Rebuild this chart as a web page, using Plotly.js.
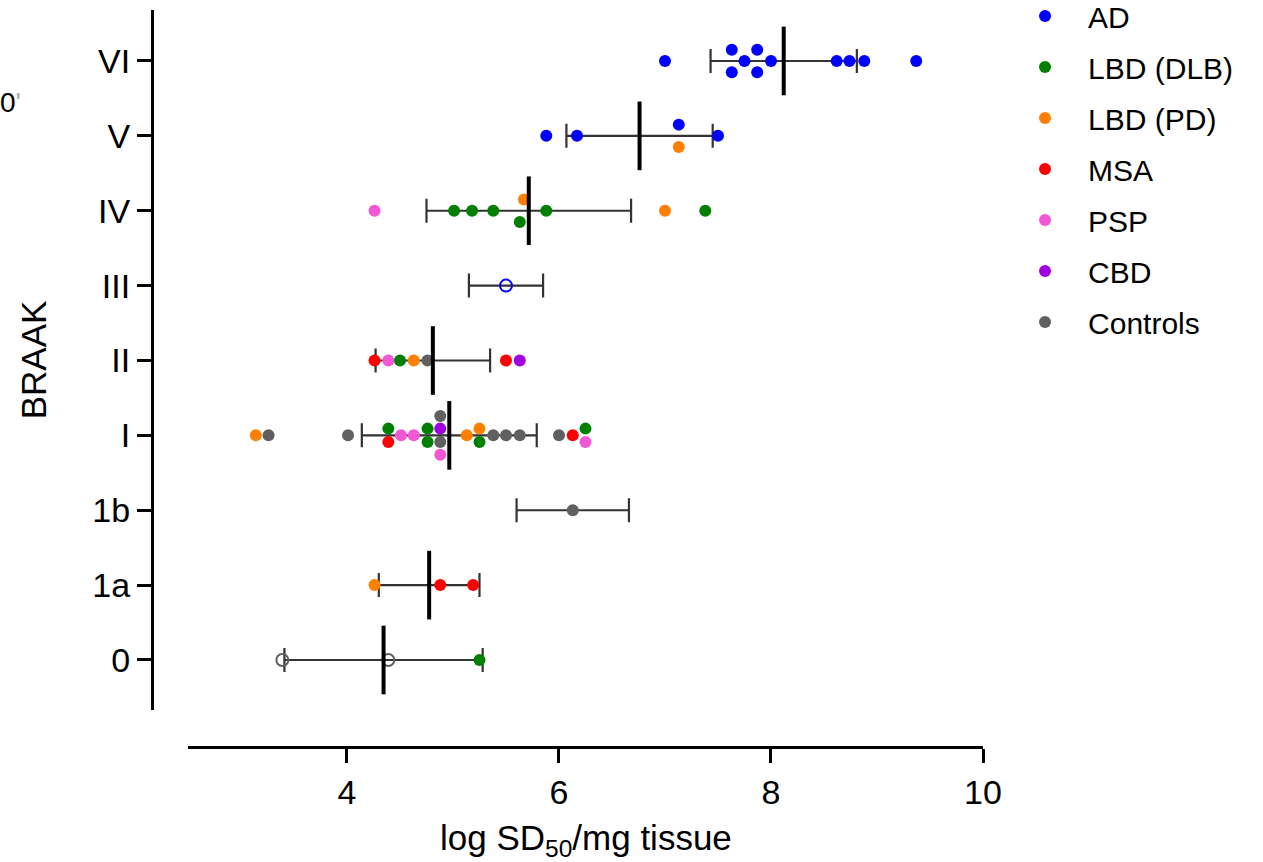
<!DOCTYPE html>
<html><head><meta charset="utf-8">
<script src="https://cdn.plot.ly/plotly-3.0.1.min.js"></script>
<style>html,body{margin:0;padding:0;background:#fff;} #chart{width:1263px;height:862px;}</style>
</head><body><div id="chart"></div>
<script>
// Braak stages (bottom to top)
const stages = ['0','1a','1b','I','II','III','IV','V','VI'];

const groupNames  = ['AD','LBD (DLB)','LBD (PD)','MSA','PSP','CBD','Controls'];
const groupColors = ['#0000ff','#007f00','#ff7f00','#ff0000','#f257d6','#a000e0','#606060'];

// AD
const adStage  = ['VI','VI','VI','VI','VI','VI','VI','VI','VI','VI','VI','V','V','V','V'];
const adValue  = [7.00,7.63,7.63,7.75,7.87,7.87,8.00,8.62,8.74,8.88,9.37,5.88,6.17,7.13,7.50];
const adJitter = [0,0.15,-0.15,0,0.15,-0.15,0,0,0,0,0,0,0,0.15,0];
// LBD (DLB)
const dlbStage  = ['IV','IV','IV','IV','IV','IV','II','I','I','I','I','I','0'];
const dlbValue  = [5.01,5.18,5.38,5.63,5.88,7.38,4.50,4.39,4.76,4.76,5.25,6.25,5.25];
const dlbJitter = [0,0,0,-0.15,0,0,0,0.09,0.09,-0.09,-0.09,0.09,0];
// LBD (PD)
const pdStage  = ['V','IV','IV','II','I','I','I','1a'];
const pdValue  = [7.13,5.67,7.00,4.63,3.14,5.13,5.25,4.26];
const pdJitter = [-0.15,0.15,0,0,0,0,0.09,0];
// MSA
const msaStage  = ['II','II','I','I','1a','1a'];
const msaValue  = [4.26,5.50,4.39,6.13,4.88,5.19];
const msaJitter = [0,0,-0.09,0,0,0];
// PSP
const pspStage  = ['IV','II','I','I','I','I'];
const pspValue  = [4.26,4.39,4.51,4.63,4.88,6.25];
const pspJitter = [0,0,0,0,-0.26,-0.09];
// CBD
const cbdStage  = ['II','I'];
const cbdValue  = [5.63,4.88];
const cbdJitter = [0,0.09];
// Controls
const ctrlStage  = ['II','I','I','I','I','I','I','I','I','1b'];
const ctrlValue  = [4.76,3.26,4.01,4.88,4.88,5.38,5.50,5.63,6.00,6.13];
const ctrlJitter = [0,0,0,0.26,-0.09,0,0,0,0,0];
// open-circle points
const openStage = ['III','0','0'];
const openValue = [5.50,3.39,4.39];
const openGroup = ['AD','Controls','Controls'];

// mean +/- SD per stage
const statStage = ['VI','V','IV','III','II','I','1b','1a','0'];
const statMean  = [8.12,6.76,5.715,5.50,4.81,4.965,6.13,4.775,4.345];
const statSD    = [0.69,0.69,0.965,0.35,0.54,0.825,0.53,0.475,0.935];

const xTicks = [4,6,8,10];

const groupStage  = [adStage,dlbStage,pdStage,msaStage,pspStage,cbdStage,ctrlStage];
const groupValue  = [adValue,dlbValue,pdValue,msaValue,pspValue,cbdValue,ctrlValue];
const groupJitter = [adJitter,dlbJitter,pdJitter,msaJitter,pspJitter,cbdJitter,ctrlJitter];

const idx = s => stages.indexOf(s);

// count points per stage
const counts = {};
groupStage.forEach(arr => arr.forEach(s => counts[s] = (counts[s]||0)+1));
openStage.forEach(s => counts[s] = (counts[s]||0)+1);

const traces = [];
// error bars
traces.push({
  type:'scatter', mode:'markers', x:statMean, y:statStage.map(idx),
  marker:{size:1, opacity:0}, showlegend:false, hoverinfo:'skip',
  error_x:{type:'data', array:statSD, visible:true, color:'#333333', thickness:2.2, width:12}
});
// groups
groupNames.forEach((name,g) => {
  traces.push({
    type:'scatter', mode:'markers', name:name, legendgroup:name,
    x:groupValue[g], y:groupStage[g].map((s,i)=>idx(s)+groupJitter[g][i]),
    marker:{size:12, color:groupColors[g], line:{width:0}},
    cliponaxis:false
  });
});
// open circles
traces.push({
  type:'scatter', mode:'markers', showlegend:false,
  x:openValue, y:openStage.map(idx),
  marker:{symbol:'circle-open', size:12, color:openGroup.map(n=>groupColors[groupNames.indexOf(n)]), line:{width:2}},
  cliponaxis:false
});
// mean lines
const mStage = statStage.filter(s => counts[s] > 1);
const mMean = statMean.filter((v,i)=>counts[statStage[i]] > 1);
traces.push({
  type:'scatter', mode:'markers', showlegend:false, hoverinfo:'skip',
  x:mMean, y:mStage.map(idx),
  marker:{symbol:'line-ns', size:49, color:'#000', line:{width:4, color:'#000'}},
  cliponaxis:false
});

const layout = {
  width:1263, height:862,
  margin:{l:152, r:280, t:10, b:115, autoexpand:false},
  paper_bgcolor:'#ffffff', plot_bgcolor:'#ffffff',
  font:{family:'Liberation Sans, Arial, sans-serif', color:'#000'},
  showlegend:true,
  legend:{x:1.0229, y:1.027, xanchor:'left', yanchor:'top', itemwidth:76, tracegroupgap:9,
          font:{size:30, color:'#000'}, bgcolor:'rgba(0,0,0,0)'},
  xaxis:{range:[2.5,10], domain:[0.0433,1], anchor:'free', position:0,
         showgrid:false, zeroline:false, showline:true, linewidth:3, linecolor:'#000',
         ticks:'outside', ticklen:14, tickwidth:3, tickcolor:'#000',
         tickvals:xTicks, tickfont:{size:34}},
  yaxis:{range:[-0.668,8.681], domain:[0.0502,1], anchor:'free', position:0,
         showgrid:false, zeroline:false, showline:true, linewidth:3, linecolor:'#000',
         ticks:'outside', ticklen:14, tickwidth:3, tickcolor:'#000',
         tickvals:stages.map((s,i)=>i), ticktext:stages, tickfont:{size:34},
         title:{text:'BRAAK', font:{size:35}, standoff:34}},
  annotations:[
    {xref:'paper', yref:'paper', x:0.5217, y:-0.126, xanchor:'center', yanchor:'middle',
     text:'log SD<sub>50</sub>/mg tissue', showarrow:false, font:{size:35, color:'#000'}},
    {xref:'paper', yref:'paper', x:-0.185, y:0.874, xanchor:'left', yanchor:'middle',
     text:"0<span style='color:#aaa'>'</span>", showarrow:false, font:{size:28, color:'#000'}}
  ]
};

Plotly.newPlot('chart', traces, layout, {displayModeBar:false, staticPlot:true});
</script></body></html>
